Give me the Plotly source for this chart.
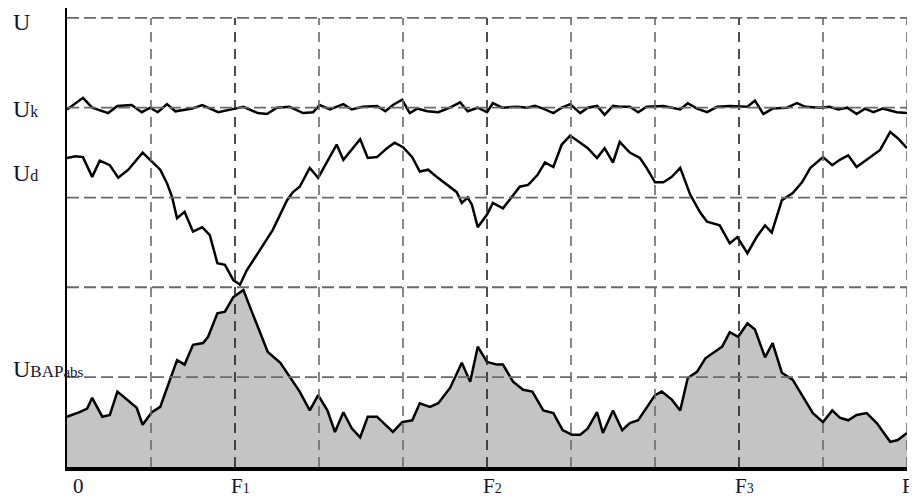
import plotly.graph_objects as go

# ---- data (x in units of the grid, F = 10; y in grid units) ----
uk_x = [0, 0.10, 0.19, 0.30, 0.49, 0.60, 0.77, 0.89, 0.99, 1.08, 1.19, 1.29, 1.49, 1.61, 1.80, 2.00, 2.10, 2.27, 2.38, 2.50,
        2.65, 2.81, 2.93, 3.01, 3.13, 3.29, 3.39, 3.52, 3.69, 3.79, 3.88, 3.99, 4.08, 4.17, 4.29, 4.42, 4.56, 4.68, 4.77, 4.89,
        5.00, 5.07, 5.18, 5.36, 5.48, 5.57, 5.67, 5.79, 5.89, 5.99, 6.11, 6.20, 6.31, 6.40, 6.50, 6.58, 6.70, 6.80, 6.90, 7.10,
        7.30, 7.39, 7.50, 7.62, 7.74, 7.89, 8.10, 8.19, 8.29, 8.40, 8.57, 8.69, 8.79, 8.96, 9.08, 9.18, 9.29, 9.40, 9.50, 9.60,
        9.71, 9.88, 10.00]
uk_y = [3.98, 4.05, 4.11, 4.00, 3.94, 4.02, 4.03, 3.95, 4.00, 3.95, 4.04, 3.96, 3.99, 4.03, 3.95, 3.99, 4.01, 3.94, 3.93, 4.00,
        4.01, 3.94, 3.95, 4.03, 3.98, 4.04, 3.98, 4.01, 4.02, 3.96, 4.03, 4.09, 3.94, 3.99, 3.96, 3.95, 4.00, 4.06, 3.96, 4.00,
        3.95, 4.05, 4.00, 4.01, 4.00, 4.02, 3.99, 3.94, 4.00, 4.04, 3.94, 4.00, 4.02, 3.92, 4.02, 4.01, 4.01, 3.95, 4.01, 4.02,
        3.98, 4.05, 3.99, 3.95, 4.01, 4.02, 4.01, 4.08, 3.93, 3.99, 4.00, 4.05, 4.01, 4.00, 4.01, 3.98, 4.00, 3.93, 3.99, 3.95,
        3.99, 3.95, 3.94]

ud_x = [0, 0.10, 0.19, 0.30, 0.39, 0.51, 0.61, 0.73, 0.90, 1.01, 1.11, 1.19, 1.25, 1.31, 1.40, 1.50, 1.61, 1.70, 1.79, 1.88,
        1.98, 2.06, 2.14, 2.30, 2.45, 2.62, 2.69, 2.77, 2.89, 2.99, 3.21, 3.29, 3.37, 3.49, 3.58, 3.69, 3.81, 3.90, 4.00, 4.11,
        4.20, 4.30, 4.40, 4.52, 4.64, 4.70, 4.77, 4.82, 4.89, 5.00, 5.07, 5.19, 5.31, 5.39, 5.49, 5.60, 5.69, 5.79, 5.89, 5.99,
        6.11, 6.20, 6.31, 6.40, 6.50, 6.58, 6.70, 6.82, 6.90, 7.00, 7.10, 7.20, 7.30, 7.42, 7.54, 7.62, 7.77, 7.89, 7.98, 8.10,
        8.21, 8.31, 8.39, 8.51, 8.64, 8.75, 8.85, 9.00, 9.11, 9.20, 9.30, 9.40, 9.52, 9.68, 9.80, 9.89, 10.00]
ud_y = [3.44, 3.46, 3.45, 3.23, 3.41, 3.36, 3.22, 3.31, 3.50, 3.40, 3.31, 3.16, 3.01, 2.77, 2.84, 2.62, 2.67, 2.58, 2.27, 2.25,
        2.08, 2.03, 2.19, 2.42, 2.64, 2.97, 3.06, 3.12, 3.33, 3.22, 3.59, 3.42, 3.51, 3.65, 3.44, 3.45, 3.55, 3.61, 3.56, 3.45,
        3.29, 3.31, 3.23, 3.14, 3.06, 2.94, 3.00, 2.92, 2.67, 2.81, 2.94, 2.88, 3.03, 3.12, 3.14, 3.25, 3.39, 3.34, 3.59, 3.69,
        3.61, 3.55, 3.44, 3.55, 3.39, 3.62, 3.50, 3.44, 3.33, 3.17, 3.17, 3.23, 3.33, 3.03, 2.83, 2.73, 2.69, 2.49, 2.56, 2.38,
        2.56, 2.69, 2.61, 2.97, 3.05, 3.17, 3.33, 3.45, 3.36, 3.42, 3.47, 3.34, 3.42, 3.53, 3.73, 3.66, 3.55]

ubap_x = [0, 0.15, 0.24, 0.30, 0.42, 0.51, 0.60, 0.71, 0.83, 0.90, 1.01, 1.11, 1.23, 1.31, 1.40, 1.50, 1.62, 1.68, 1.79, 1.88,
          1.98, 2.10, 2.20, 2.30, 2.39, 2.54, 2.65, 2.77, 2.89, 2.99, 3.10, 3.19, 3.29, 3.39, 3.49, 3.58, 3.69, 3.79, 3.88, 3.99,
          4.11, 4.20, 4.32, 4.42, 4.56, 4.70, 4.80, 4.89, 5.00, 5.12, 5.19, 5.31, 5.43, 5.54, 5.67, 5.79, 5.90, 6.01, 6.11, 6.20,
          6.31, 6.38, 6.50, 6.61, 6.70, 6.80, 6.90, 7.00, 7.08, 7.20, 7.30, 7.39, 7.50, 7.60, 7.69, 7.80, 7.89, 7.99, 8.10, 8.19,
          8.31, 8.40, 8.51, 8.64, 8.75, 8.88, 9.00, 9.11, 9.20, 9.30, 9.40, 9.52, 9.64, 9.80, 9.89, 10.00]
ubap_y = [0.56, 0.61, 0.65, 0.77, 0.56, 0.58, 0.84, 0.75, 0.66, 0.47, 0.61, 0.67, 0.99, 1.19, 1.14, 1.36, 1.38, 1.45, 1.71, 1.73,
          1.89, 1.97, 1.73, 1.49, 1.28, 1.16, 1.00, 0.84, 0.63, 0.80, 0.63, 0.39, 0.61, 0.43, 0.33, 0.56, 0.56, 0.47, 0.39, 0.50,
          0.52, 0.71, 0.67, 0.71, 0.88, 1.16, 0.95, 1.34, 1.17, 1.14, 1.14, 0.95, 0.86, 0.84, 0.63, 0.60, 0.41, 0.36, 0.36, 0.43,
          0.61, 0.38, 0.63, 0.41, 0.49, 0.52, 0.66, 0.80, 0.84, 0.75, 0.63, 0.99, 1.06, 1.21, 1.27, 1.34, 1.50, 1.45, 1.60, 1.53,
          1.22, 1.38, 1.05, 0.97, 0.80, 0.60, 0.50, 0.63, 0.55, 0.52, 0.58, 0.60, 0.49, 0.28, 0.30, 0.38]

x_tick_vals = [0, 2, 5, 8, 10]
x_tick_text = ["0", "F<span style='font-size:14px'>1</span>", "F<span style='font-size:14px'>2</span>",
               "F<span style='font-size:14px'>3</span>", "F"]
grid_x = [1, 2, 3, 4, 5, 6, 7, 8, 9, 10]
grid_y = [1, 2, 3, 4, 5]
f_lines = [2, 5, 8]

y_labels = ["U", "U<span style='font-size:16px'>k</span>", "U<span style='font-size:16px'>d</span>",
            "U<span style='font-size:17px'>BAP</span><span style='font-size:15px'>abs</span>"]
y_label_pos = [4.95, 3.99, 3.27, 1.09]

TXT = "#15152a"
FONT = "Liberation Serif, Times New Roman, serif"

fig = go.Figure()
fig.add_trace(go.Scatter(x=ubap_x, y=ubap_y, mode="lines", fill="tozeroy",
                         fillcolor="#c4c4c4", line=dict(color="black", width=2.5), hoverinfo="skip"))
fig.add_trace(go.Scatter(x=ud_x, y=ud_y, mode="lines", line=dict(color="black", width=2.5), hoverinfo="skip"))
fig.add_trace(go.Scatter(x=uk_x, y=uk_y, mode="lines", line=dict(color="black", width=2.5), hoverinfo="skip"))

for gx in grid_x:
    col = "#222222" if gx in f_lines else "#6a6a6a"
    fig.add_shape(type="line", xref="x", yref="y", x0=gx, x1=gx, y0=0, y1=grid_y[-1],
                  line=dict(color=col, width=1.6, dash="10px,7px"), layer="above")
for gy in grid_y:
    fig.add_shape(type="line", xref="x", yref="y", x0=0, x1=grid_x[-1], y0=gy, y1=gy,
                  line=dict(color="#6a6a6a", width=2.0 if gy == 2 else 1.8, dash="12px,5px"), layer="above")

for v, t in zip(x_tick_vals, x_tick_text):
    shift = 11 if v == 0 else (1 if v == x_tick_vals[-1] else 5)
    fig.add_annotation(x=v, y=0, xref="x", yref="y", text=t, showarrow=False,
                       yanchor="top", yshift=-5, xanchor="center", xshift=shift,
                       font=dict(family=FONT, size=21, color=TXT))

for t, yv in zip(y_labels, y_label_pos):
    fig.add_annotation(x=-0.067, y=yv, xref="paper", yref="y", text=t, showarrow=False,
                       xanchor="left", yanchor="middle",
                       font=dict(family=FONT, size=24, color=TXT))

# page body has an 8px margin: size the figure so the plot lands where the reference has it
fig.update_layout(
    width=909, height=493,
    margin=dict(l=59, r=10, t=0, b=34),
    paper_bgcolor="white", plot_bgcolor="white",
    showlegend=False,
    xaxis=dict(range=[0, 10], showgrid=False, zeroline=False, showticklabels=False, ticks="",
               showline=True, linecolor="black", linewidth=4, fixedrange=True),
    yaxis=dict(range=[0, 5.11], showgrid=False, zeroline=False, showticklabels=False, ticks="",
               showline=True, linecolor="black", linewidth=2, fixedrange=True),
)

fig.write_html("out.html")
